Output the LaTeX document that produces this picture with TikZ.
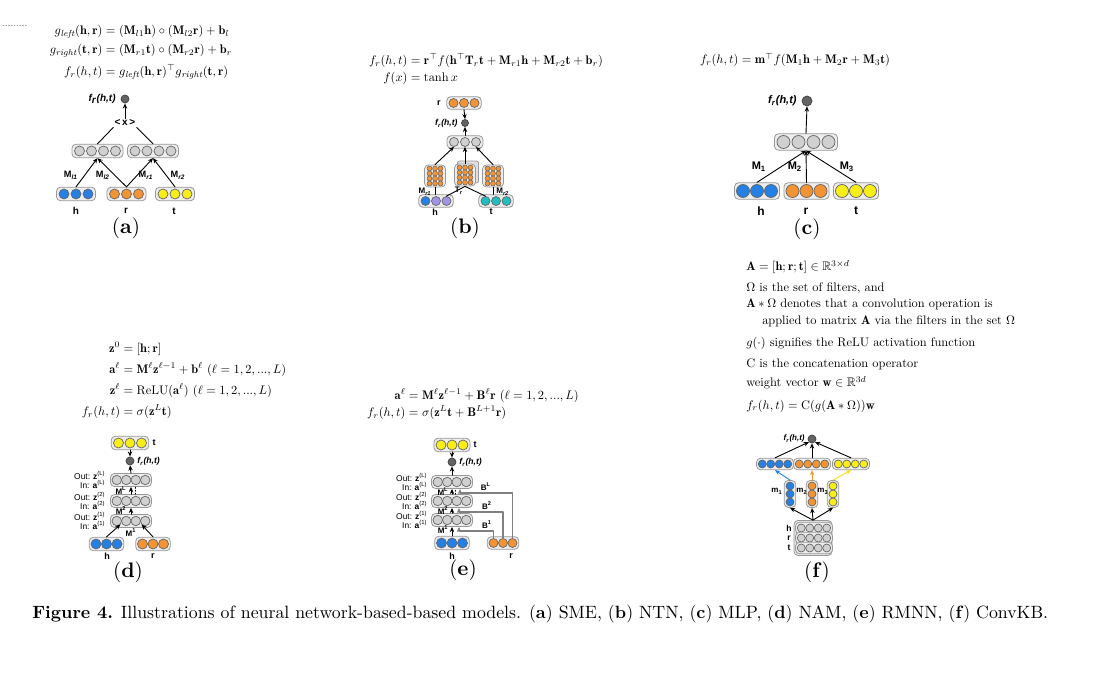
\documentclass[tikz,border=0pt]{standalone}
\usepackage{amsmath,amssymb}
\usepackage{fontspec}
\newfontfamily\arialf{Liberation Sans}
\usetikzlibrary{arrows.meta}

\definecolor{hblue}{RGB}{38,128,228}
\definecolor{rorange}{RGB}{242,148,52}
\definecolor{tyellow}{RGB}{250,238,25}
\definecolor{ngray}{RGB}{208,208,208}
\definecolor{ndark}{RGB}{100,100,100}
\definecolor{hpurple}{RGB}{160,148,232}
\definecolor{tteal}{RGB}{32,190,192}

\setlength{\jot}{3.5pt}

\newcommand{\frht}{\textit{f\textsubscript{r}(h,t)}}

% row of units in a rounded box: name, x, y, n, colours, diameter, spacing
\newcommand{\nrow}[7]{%
  \node[grp, minimum width={(#4*#7+3)*0.5pt}, minimum height={(#6+3.5)*0.5pt}] (#1) at (#2,#3) {};
  \foreach \cl [count=\kk] in {#5}
    \node[neuron, fill=\cl, minimum size={#6*0.5pt}] (#1-\kk) at ({#2+(\kk-(#4+1)/2)*#7},#3) {};
}
% same, standing upright
\newcommand{\ncol}[7]{%
  \node[grp, minimum width={(#6+3.5)*0.5pt}, minimum height={(#4*#7+3)*0.5pt}] (#1) at (#2,#3) {};
  \foreach \cl [count=\kk] in {#5}
    \node[neuron, fill=\cl, minimum size={#6*0.5pt}] (#1-\kk) at (#2,{#3+(\kk-(#4+1)/2)*#7}) {};
}
% small orange weight matrix
\newcommand{\nmat}[3]{%
  \node[grp, minimum width=10.5pt, minimum height=11pt] (#1) at (#2,#3) {};
  \foreach \ii in {1,2,3}
    \foreach \jj in {1,...,4}
      \node[neuron, fill=rorange, minimum size=2.5pt, line width=0.25pt] (#1-\ii\jj) at ({#2+(\ii-2)*5.5},{#3+(\jj-2.5)*5}) {};
}

\begin{document}
\begin{tikzpicture}[x=0.5pt,y=-0.5pt,line cap=round,line join=round,
    neuron/.style={circle,draw=black!60,line width=0.35pt,inner sep=0pt},
    grp/.style={rectangle,rounded corners=2pt,draw=black!40,fill=black!7,line width=0.4pt,inner sep=0pt},
    outn/.style={circle,draw=black!75,fill=ndark,line width=0.35pt,inner sep=0pt,minimum size=#1},
    outn/.default=4pt,
    arr/.style={-{Stealth[length=2.6pt,width=2.2pt]},line width=0.45pt},
    lnk/.style={line width=0.45pt},
    barr/.style={arr,draw=black!50,line width=0.6pt},
    lbl/.style={font=\fontsize{#1}{#1}\selectfont\arialf\bfseries,inner sep=0.5pt},
    lbl/.default=5,
    inout/.style={font=\fontsize{4.2}{4.6}\selectfont\arialf,align=right,anchor=east,inner sep=0pt},
    eqn/.style={font=\fontsize{10}{12}\selectfont,inner sep=0pt,scale=0.62,transform shape},
    tag/.style={font=\fontsize{10.5}{12}\selectfont}]
  \fill[white] (0,0) rectangle (1100,674);
  \useasboundingbox (0,0) rectangle (1100,674);

  % (a) SME
  \draw[densely dotted,black!40] (3,25) -- (27,25);
  \node[eqn] (eqa) at (141,52) {$\begin{aligned}
    g_{\mathit{left}}(\mathbf{h},\mathbf{r}) &= (\mathbf{M}_{l1}\mathbf{h})\circ(\mathbf{M}_{l2}\mathbf{r})+\mathbf{b}_l\\
    g_{\mathit{right}}(\mathbf{t},\mathbf{r}) &= (\mathbf{M}_{r1}\mathbf{t})\circ(\mathbf{M}_{r2}\mathbf{r})+\mathbf{b}_r\\
    f_r(h,t) &= g_{\mathit{left}}(\mathbf{h},\mathbf{r})^{\top} g_{\mathit{right}}(\mathbf{t},\mathbf{r})
  \end{aligned}$};
  \nrow{ahl}{97.5}{151}{4}{ngray,ngray,ngray,ngray}{10}{12}
  \nrow{ahr}{153}{151}{4}{ngray,ngray,ngray,ngray}{10}{12}
  \nrow{ah}{76}{194}{3}{hblue,hblue,hblue}{10}{12}
  \nrow{ar}{126.5}{194}{3}{rorange,rorange,rorange}{10}{12}
  \nrow{at}{175}{194}{3}{tyellow,tyellow,tyellow}{10}{12}
  \node[outn] (aout) at (125,99) {};
  \node[lbl,anchor=east] (aoutl) at (117,99) {\frht};
  \node[lbl] (amul) at (125,123) {<\,x\,>};
  \draw[arr] (amul) -- (aout);
  \draw[lnk] (amul.south west) -- (ahl.north);
  \draw[lnk] (amul.south east) -- (ahr.north);
  \draw[arr] (ah.north) -- (ahl.south);
  \draw[arr] (ar.north) -- (ahl.south);
  \draw[arr] (ar.north) -- (ahr.south);
  \draw[arr] (at.north) -- (ahr.south);
  \node[lbl=4.6] (aml1) at (71,175) {M\textsubscript{\itshape l1}};
  \node[lbl=4.6] (aml2) at (103,175) {M\textsubscript{\itshape l2}};
  \node[lbl=4.6] (amr1) at (146,175) {M\textsubscript{\itshape r1}};
  \node[lbl=4.6] (amr2) at (178,175) {M\textsubscript{\itshape r2}};
  \node[lbl] (ahlab) at (76,211) {h};
  \node[lbl] (arlab) at (126,211) {r};
  \node[lbl] (atlab) at (174,211) {t};
  \node[tag] (taga) at (126,228) {(\textbf{a})};

  % (b) NTN
  \node[eqn] (eqb) at (486,70) {$\begin{aligned}
    f_r(h,t) &= \mathbf{r}^{\top} f(\mathbf{h}^{\top}\mathbf{T}_r\mathbf{t}+\mathbf{M}_{r1}\mathbf{h}+\mathbf{M}_{r2}\mathbf{t}+\mathbf{b}_r)\\[-2pt]
    f(x) &= \tanh x
  \end{aligned}$};
  \nrow{br}{464}{103}{3}{rorange,rorange,rorange}{9}{10.5}
  \node[lbl=4.5] (brl) at (439,103) {r};
  \node[outn=3.5pt] (bout) at (465,123) {};
  \node[lbl=4.3,anchor=east] (boutl) at (459,123) {\frht};
  \nrow{bhid}{465}{142}{3}{ngray,ngray,ngray}{9}{11}
  \draw[black!40,fill=black!12,rounded corners=1pt] (457.5,161) rectangle (478.5,183);
  \nmat{bml}{435}{176}
  \nmat{bmt}{465}{175}
  \nmat{bmr}{493}{176}
  \nrow{bh}{436}{201}{3}{hblue,hpurple,hpurple}{9}{10.5}
  \nrow{bt}{496}{201}{3}{tteal,tteal,tteal}{9}{10.5}
  \draw[arr] (br.south) -- (bout.north);
  \draw[arr] (bhid.north) -- (bout.south);
  \draw[arr] (bml.north) -- (bhid-1.south);
  \draw[arr] (bmt.north) -- (bhid-2.south);
  \draw[arr] (bmr.north) -- (bhid-3.south);
  \draw[lnk] (bml.south) -- (bml.south |- bh.north);
  \draw[lnk] (bmt.south) -- (bh-3.north);
  \draw[lnk] (bmt.south) -- (bt-1.north);
  \draw[lnk] (bmr.south) -- (bmr.south |- bt.north);
  \node[lbl=4,anchor=east] (bmr1) at (433,192) {M\textsubscript{\itshape r1}};
  \node[lbl=4] (btr) at (459,191) {T\textsubscript{\itshape r}};
  \node[lbl=4,anchor=west] (bmr2) at (495,192) {M\textsubscript{\itshape r2}};
  \node[lbl=4.5] (bhlab) at (435,212) {h};
  \node[lbl=4.5] (btlab) at (491,212) {t};
  \node[tag] (tagb) at (465,228) {(\textbf{b})};

  % (c) MLP
  \node[eqn] (eqc) at (795,60) {$f_r(h,t) = \mathbf{m}^{\top} f(\mathbf{M}_1\mathbf{h}+\mathbf{M}_2\mathbf{r}+\mathbf{M}_3\mathbf{t})$};
  \nrow{chid}{806}{142}{4}{ngray,ngray,ngray,ngray}{13}{15}
  \nrow{ch}{757}{191}{3}{hblue,hblue,hblue}{13}{14}
  \nrow{cr}{806.5}{191}{3}{rorange,rorange,rorange}{13}{14}
  \nrow{ct}{856}{191}{3}{tyellow,tyellow,tyellow}{13}{14}
  \node[outn=5pt] (cout) at (807,101) {};
  \node[lbl=5.5,anchor=east] (coutl) at (798,101) {\frht};
  \draw[arr] (chid.north) -- (cout.south);
  \draw[arr] (ch.north) -- (chid.south);
  \draw[arr] (cr.north) -- (chid.south);
  \draw[arr] (ct.north) -- (chid.south);
  \node[lbl=5.5] (cm1) at (759,167) {M\textsubscript{1}};
  \node[lbl=5.5] (cm2) at (795,167) {M\textsubscript{2}};
  \node[lbl=5.5] (cm3) at (847,167) {M\textsubscript{3}};
  \node[lbl=6] (chlab) at (761,211) {h};
  \node[lbl=6] (crlab) at (806,211) {r};
  \node[lbl=6] (ctlab) at (856,211) {t};
  \node[tag] (tagc) at (807,229) {(\textbf{c})};

  % (d) NAM
  \node[eqn] (eqd) at (184,381) {$\begin{aligned}
    \mathbf{z}^0 &= [\mathbf{h};\mathbf{r}]\\
    \mathbf{a}^{\ell} &= \mathbf{M}^{\ell}\mathbf{z}^{\ell-1}+\mathbf{b}^{\ell}\ (\ell=1,2,...,L)\\
    \mathbf{z}^{\ell} &= \mathrm{ReLU}(\mathbf{a}^{\ell})\ (\ell=1,2,...,L)\\
    f_r(h,t) &= \sigma(\mathbf{z}^L\mathbf{t})
  \end{aligned}$};
  \nrow{dt}{130}{443}{3}{tyellow,tyellow,tyellow}{10}{11.5}
  \node[lbl=4.5] (dtlab) at (154,443) {t};
  \node[outn] (dout) at (130,461) {};
  \node[lbl=4.3,anchor=west] (doutl) at (136,461) {\frht};
  \nrow{d3}{131}{480}{4}{ngray,ngray,ngray,ngray}{9.5}{9.5}
  \nrow{d2}{131}{501}{4}{ngray,ngray,ngray,ngray}{9.5}{9.5}
  \nrow{d1}{131}{521}{4}{ngray,ngray,ngray,ngray}{9.5}{9.5}
  \node[inout] (d3l) at (106,480) {Out: \textbf{z}\textsuperscript{(L)}\\In: \textbf{a}\textsuperscript{(L)}};
  \node[inout] (d2l) at (106,501) {Out: \textbf{z}\textsuperscript{(2)}\\In: \textbf{a}\textsuperscript{(2)}};
  \node[inout] (d1l) at (106,521) {Out: \textbf{z}\textsuperscript{(1)}\\In: \textbf{a}\textsuperscript{(1)}};
  \draw[arr] (dt.south) -- (dout.north);
  \draw[arr] (d3.north) -- (dout.south);
  \draw[arr] (d2.north) -- (d3.south);
  \draw[densely dotted,line width=0.45pt] ([xshift=2pt]d2.north) -- ([xshift=2pt]d3.south);
  \draw[arr] (d1.north) -- (d2.south);
  \nrow{dh}{106.5}{544}{3}{hblue,hblue,hblue}{10}{10.5}
  \nrow{dr}{153}{544}{3}{rorange,rorange,rorange}{10}{10.5}
  \draw[arr] (dh.north) -- (d1-1.south east);
  \draw[arr] (dr.north) -- (d1-4.south west);
  \node[lbl=4,anchor=east] (dml) at (128,491) {M\textsuperscript{L}};
  \node[lbl=4,anchor=east] (dm2) at (128,511) {M\textsuperscript{2}};
  \node[lbl=4] (dm1) at (131,533) {M\textsuperscript{1}};
  \node[lbl=4.5] (dhlab) at (107,556) {h};
  \node[lbl=4.5] (drlab) at (153,556) {r};
  \node[tag] (tagd) at (128,572) {(\textbf{d})};

  % (e) RMNN
  \node[eqn] (eqe) at (473,405) {$\begin{aligned}
    \mathbf{a}^{\ell} &= \mathbf{M}^{\ell}\mathbf{z}^{\ell-1}+\mathbf{B}^{\ell}\mathbf{r}\ (\ell=1,2,...,L)\\[-3.4pt]
    f_r(h,t) &= \sigma(\mathbf{z}^L\mathbf{t}+\mathbf{B}^{L+1}\mathbf{r})
  \end{aligned}$};
  \nrow{et}{452}{445}{3}{tyellow,tyellow,tyellow}{10}{11}
  \node[lbl=4.5] (etlab) at (475,445) {t};
  \node[outn] (eout) at (452,462) {};
  \node[lbl=4.3,anchor=west] (eoutl) at (458,462) {\frht};
  \nrow{e3}{452}{482}{4}{ngray,ngray,ngray,ngray}{9.5}{9.5}
  \nrow{e2}{452}{501}{4}{ngray,ngray,ngray,ngray}{9.5}{9.5}
  \nrow{e1}{452}{520}{4}{ngray,ngray,ngray,ngray}{9.5}{9.5}
  \node[inout] (e3l) at (428,482) {Out: \textbf{z}\textsuperscript{(L)}\\In: \textbf{a}\textsuperscript{(L)}};
  \node[inout] (e2l) at (428,501) {Out: \textbf{z}\textsuperscript{(2)}\\In: \textbf{a}\textsuperscript{(2)}};
  \node[inout] (e1l) at (428,520) {Out: \textbf{z}\textsuperscript{(1)}\\In: \textbf{a}\textsuperscript{(1)}};
  \nrow{eh}{452}{543}{3}{hblue,hblue,hblue}{10}{10.5}
  \nrow{er}{503}{543}{3}{rorange,rorange,rorange}{9}{9.5}
  \draw[arr] (et.south) -- (eout.north);
  \draw[arr] (e3.north) -- (eout.south);
  \draw[arr] (e2.north) -- (e3.south);
  \draw[densely dotted,line width=0.45pt] ([xshift=1.5pt]e2.north) -- ([xshift=1.5pt]e3.south);
  \draw[arr] (e1.north) -- (e2.south);
  \draw[arr] (eh.north) -- (e1.south);
  \coordinate (eb1) at (459,531);
  \coordinate (eb2) at (459,512);
  \coordinate (ebl) at (460,493);
  \draw[barr] (er-1.north) |- (eb1) -- (eb1 |- e1.south);
  \draw[barr] (er-2.north) |- (eb2) -- (eb2 |- e2.south);
  \draw[barr] (er-3.north) |- (ebl) -- (ebl |- e3.south);
  \node[lbl=4,anchor=east] (eml) at (450,492) {M\textsuperscript{L}};
  \node[lbl=4,anchor=east] (em2) at (450,511) {M\textsuperscript{2}};
  \node[lbl=4,anchor=east] (em1) at (450,530) {M\textsuperscript{1}};
  \node[lbl=4] (ebll) at (486,487) {B\textsuperscript{L}};
  \node[lbl=4] (eb2l) at (487,506) {B\textsuperscript{2}};
  \node[lbl=4] (eb1l) at (487,525) {B\textsuperscript{1}};
  \node[lbl=4.5] (ehlab) at (452,556) {h};
  \node[lbl=4.5] (erlab) at (511,556) {r};
  \node[tag] (tage) at (463,570) {(\textbf{e})};

  % (f) ConvKB
  \foreach \yy/\xx/\txt [count=\i] in {
      267/746/{$\mathbf{A} = [\mathbf{h};\mathbf{r};\mathbf{t}] \in \mathbb{R}^{3\times d}$},
      288/746/{$\Omega$ is the set of filters, and},
      304/746/{$\mathbf{A}*\Omega$ denotes that a convolution operation is},
      321/762/{applied to matrix $\mathbf{A}$ via the filters in the set $\Omega$},
      343/746/{$g(\cdot)$ signifies the ReLU activation function},
      364/746/{C is the concatenation operator},
      383/746/{weight vector $\mathbf{w}\in\mathbb{R}^{3d}$},
      406/746/{$f_r(h,t) = \mathrm{C}(g(\mathbf{A}*\Omega))\mathbf{w}$}}
    \node[eqn,anchor=west] (ftxt\i) at (\xx,\yy) {\txt};
  \node[outn] (fout) at (812,439) {};
  \node[lbl=4,anchor=east] (foutl) at (806,439) {\frht};
  \nrow{fb}{775}{464}{4}{hblue,hblue,hblue,hblue}{8}{8.5}
  \nrow{fo}{812}{464}{4}{rorange,rorange,rorange,rorange}{8}{8.5}
  \nrow{fy}{851}{464}{4}{tyellow,tyellow,tyellow,tyellow}{8}{8.5}
  \ncol{fc1}{790}{494}{3}{hblue,hblue,hblue}{8}{8}
  \ncol{fc2}{812}{494}{3}{rorange,rorange,rorange}{8}{8}
  \ncol{fc3}{833}{494}{3}{tyellow,tyellow,tyellow}{8}{8}
  \node[grp,fill=black!10,minimum width=19pt,minimum height=17.5pt] (fmat) at (813,538) {};
  \nrow{fr1}{814}{528}{4}{ngray,ngray,ngray,ngray}{8}{8.5}
  \nrow{fr2}{814}{538}{4}{ngray,ngray,ngray,ngray}{8}{8.5}
  \nrow{fr3}{814}{548}{4}{ngray,ngray,ngray,ngray}{8}{8.5}
  \draw[arr] (fb.north) -- (fout.south west);
  \draw[arr] (fo.north) -- (fout.south);
  \draw[arr] (fy.north) -- (fout.south east);
  \draw[arr,hblue] (fc1.north) -- (fb.south);
  \draw[arr,rorange] (fc2.north) -- (fo.south);
  \draw[arr,tyellow!85!orange] (fc3.north) -- (fy.south);
  \draw[arr] (fmat.north) -- (fc1.south);
  \draw[arr] (fmat.north) -- (fc2.south);
  \draw[arr] (fmat.north) -- (fc3.south);
  \node[lbl=4] (fm1) at (777,491) {m\textsubscript{1}};
  \node[lbl=4] (fm2) at (802,491) {m\textsubscript{2}};
  \node[lbl=4] (fm3) at (823,491) {m\textsubscript{3}};
  \node[lbl=4.3] (fhlab) at (789,528) {h};
  \node[lbl=4.3] (frlab) at (789,538) {r};
  \node[lbl=4.3] (ftlab) at (789,548) {t};
  \node[tag] (tagf) at (817,572) {(\textbf{f})};

  % caption
  \node[anchor=west,inner sep=0pt,font=\fontsize{10}{12}\selectfont,scale=0.89,transform shape] (caption) at (32,614) {\textbf{Figure 4.} Illustrations of neural network-based-based models. (\textbf{a}) SME, (\textbf{b}) NTN, (\textbf{c}) MLP, (\textbf{d}) NAM, (\textbf{e}) RMNN, (\textbf{f}) ConvKB.};
\end{tikzpicture}
\end{document}
